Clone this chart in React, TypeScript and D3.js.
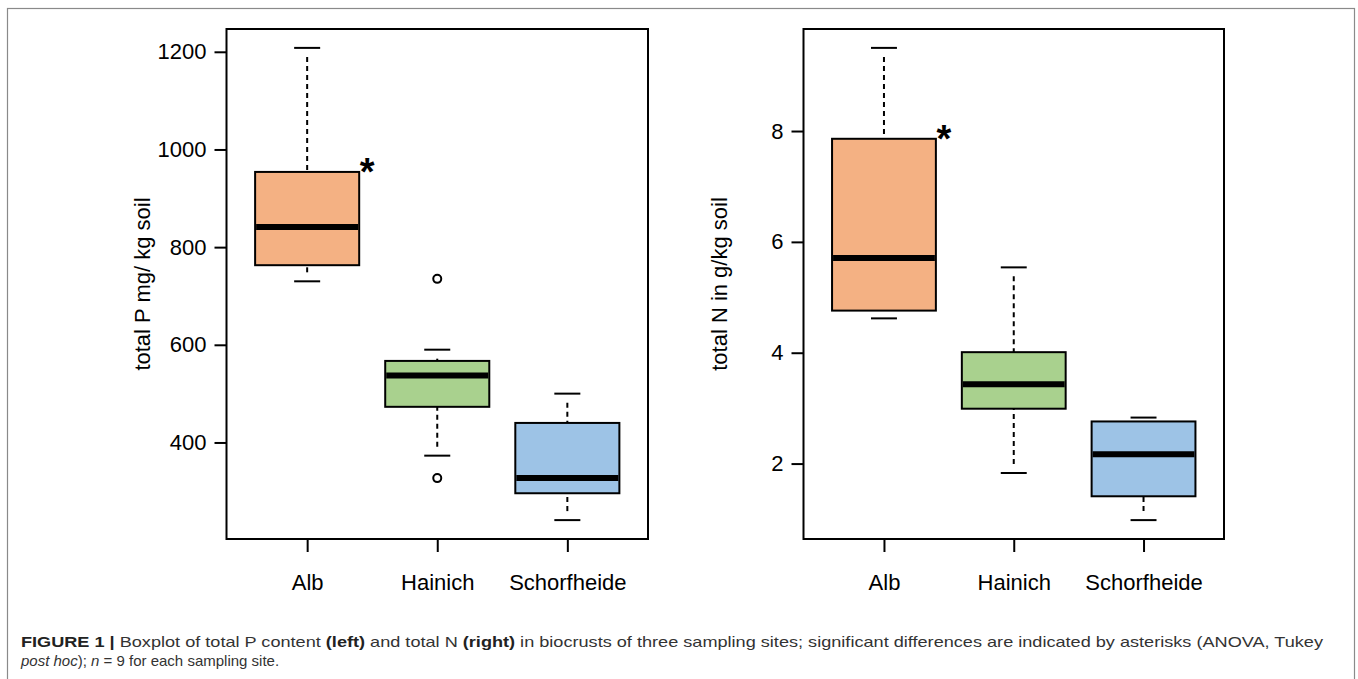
import React, { useEffect, useRef } from 'react';
import * as d3 from 'd3';

// sampling sites (x categories)
const sites = ["Alb", "Hainich", "Schorfheide"];

// total P, mg/kg soil (box statistics per site)
const pLow = [730, 373, 241];
const pQ1 = [763, 473, 296];
const pMedian = [841, 537, 327];
const pQ3 = [954, 567, 440];
const pHigh = [1208, 590, 500];
const pOutliers = [[], [735, 327], []];
const pTicks = [400, 600, 800, 1000, 1200];

// total N, g/kg soil
const nLow = [4.62, 1.83, 0.98];
const nQ1 = [4.76, 2.99, 1.41];
const nMedian = [5.71, 3.43, 2.17];
const nQ3 = [7.86, 4.01, 2.76];
const nHigh = [9.5, 5.54, 2.83];
const nOutliers = [[], [], []];
const nTicks = [2, 4, 6, 8];

// sites marked with an asterisk
const significant = ["Alb"];

const fills = ["#F4B183", "#A9D18E", "#9DC3E6"];
const font = "'Liberation Sans', Arial, sans-serif";
const gapAtStaple = 9;

const drawPanel = (svg, opts) => {
    const { left, right, top, bottom, low, q1, median, q3, high, outliers, ticks, label } = opts;

    const all = [...low, ...high, ...outliers.flat()];
    const [lo, hi] = d3.extent(all);
    const pad = (hi - lo) * 0.04;
    const y = d3.scaleLinear([lo - pad, hi + pad], [bottom, top]);
    const x = d3.scaleLinear([0.5 - 0.12, sites.length + 0.5 + 0.12], [left, right]);
    const bw = x(1.4) - x(1);
    const cap = bw / 2;

    const g = svg.append("g");

    const boxes = g.selectAll("g.site")
        .data(sites.map((s, i) => ({ s, i })))
        .join("g")
        .attr("class", "site");

    // dashed whiskers, leaving a small gap next to the staple like the original
    boxes.filter(d => y(q3[d.i]) - y(high[d.i]) > gapAtStaple)
        .append("line")
        .attr("x1", d => x(d.i + 1)).attr("x2", d => x(d.i + 1))
        .attr("y1", d => y(high[d.i]) + gapAtStaple).attr("y2", d => y(q3[d.i]))
        .attr("stroke", "#000").attr("stroke-width", 2)
        .attr("stroke-dasharray", "5,4");
    boxes.filter(d => y(low[d.i]) - y(q1[d.i]) > gapAtStaple)
        .append("line")
        .attr("x1", d => x(d.i + 1)).attr("x2", d => x(d.i + 1))
        .attr("y1", d => y(low[d.i]) - gapAtStaple).attr("y2", d => y(q1[d.i]))
        .attr("stroke", "#000").attr("stroke-width", 2)
        .attr("stroke-dasharray", "5,4");

    // staples
    boxes.append("line")
        .attr("x1", d => x(d.i + 1) - cap / 2).attr("x2", d => x(d.i + 1) + cap / 2)
        .attr("y1", d => y(high[d.i])).attr("y2", d => y(high[d.i]))
        .attr("stroke", "#000").attr("stroke-width", 2);
    boxes.append("line")
        .attr("x1", d => x(d.i + 1) - cap / 2).attr("x2", d => x(d.i + 1) + cap / 2)
        .attr("y1", d => y(low[d.i])).attr("y2", d => y(low[d.i]))
        .attr("stroke", "#000").attr("stroke-width", 2);

    boxes.append("rect")
        .attr("x", d => x(d.i + 1) - bw)
        .attr("width", bw * 2)
        .attr("y", d => y(q3[d.i]))
        .attr("height", d => y(q1[d.i]) - y(q3[d.i]))
        .attr("fill", d => fills[d.i])
        .attr("stroke", "#000")
        .attr("stroke-width", 2);

    boxes.append("line")
        .attr("x1", d => x(d.i + 1) - bw + 1).attr("x2", d => x(d.i + 1) + bw - 1)
        .attr("y1", d => y(median[d.i])).attr("y2", d => y(median[d.i]))
        .attr("stroke", "#000").attr("stroke-width", 6);

    boxes.selectAll("circle")
        .data(d => outliers[d.i].map(v => ({ v, i: d.i })))
        .join("circle")
        .attr("cx", d => x(d.i + 1))
        .attr("cy", d => y(d.v))
        .attr("r", 4)
        .attr("fill", "none")
        .attr("stroke", "#000")
        .attr("stroke-width", 2);

    boxes.filter(d => significant.includes(d.s))
        .append("text")
        .attr("x", d => x(d.i + 1) + bw + 8)
        .attr("y", d => y(q3[d.i]) + 13)
        .attr("text-anchor", "middle")
        .attr("font-family", font)
        .attr("font-size", 38)
        .attr("font-weight", "bold")
        .text("*");

    // plot frame
    g.append("rect")
        .attr("x", left).attr("y", top)
        .attr("width", right - left).attr("height", bottom - top)
        .attr("fill", "none").attr("stroke", "#000").attr("stroke-width", 2);

    g.append("g")
        .attr("transform", `translate(${left},0)`)
        .call(d3.axisLeft(y).tickValues(ticks).tickFormat(d3.format("d")).tickSize(12).tickPadding(8))
        .call(a => a.select(".domain").remove())
        .call(a => a.selectAll(".tick line").attr("stroke-width", 2))
        .call(a => a.selectAll(".tick text").attr("font-size", 22).attr("font-family", font).attr("fill", "#000"));

    g.append("g")
        .attr("transform", `translate(0,${bottom})`)
        .call(d3.axisBottom(d3.scalePoint(sites, [x(1), x(sites.length)])).tickSize(13).tickPadding(22))
        .call(a => a.select(".domain").remove())
        .call(a => a.selectAll(".tick line").attr("stroke-width", 2))
        .call(a => a.selectAll(".tick text").attr("font-size", 22).attr("font-family", font).attr("fill", "#000"));

    g.append("text")
        .attr("transform", `translate(${left - 82},${(top + bottom) / 2}) rotate(-90)`)
        .attr("text-anchor", "middle")
        .attr("dominant-baseline", "middle")
        .attr("font-family", font)
        .attr("font-size", 22)
        .text(label);
};

const App = () => {
    const svgRef = useRef(null);

    useEffect(() => {
        const svg = d3.select(svgRef.current);
        svg.selectAll("*").remove();

        svg.append("rect")
            .attr("x", 7.5).attr("y", 8.5)
            .attr("width", 1347).attr("height", 700)
            .attr("fill", "#fff").attr("stroke", "#8a8a8a").attr("stroke-width", 1.2);

        drawPanel(svg, {
            left: 226.5, right: 648, top: 29, bottom: 539,
            low: pLow, q1: pQ1, median: pMedian, q3: pQ3, high: pHigh,
            outliers: pOutliers, ticks: pTicks, label: "total P mg/ kg soil"
        });
        drawPanel(svg, {
            left: 803.5, right: 1224, top: 29, bottom: 539,
            low: nLow, q1: nQ1, median: nMedian, q3: nQ3, high: nHigh,
            outliers: nOutliers, ticks: nTicks, label: "total N in g/kg soil"
        });

        const caption = svg.append("g")
            .attr("font-family", font)
            .attr("font-size", 15)
            .attr("fill", "#333");

        const l1 = caption.append("text")
            .attr("x", 21).attr("y", 647)
            .attr("textLength", 1302)
            .attr("lengthAdjust", "spacingAndGlyphs");
        l1.append("tspan").attr("font-weight", "bold").attr("fill", "#222").text("FIGURE 1 | ");
        l1.append("tspan").text("Boxplot of total P content ");
        l1.append("tspan").attr("font-weight", "bold").attr("fill", "#222").text("(left)");
        l1.append("tspan").text(" and total N ");
        l1.append("tspan").attr("font-weight", "bold").attr("fill", "#222").text("(right)");
        l1.append("tspan").text(" in biocrusts of three sampling sites; significant differences are indicated by asterisks (ANOVA, Tukey");

        const l2 = caption.append("text").attr("x", 21).attr("y", 666);
        l2.append("tspan").attr("font-style", "italic").text("post hoc");
        l2.append("tspan").text("); ");
        l2.append("tspan").attr("font-style", "italic").text("n");
        l2.append("tspan").text(" = 9 for each sampling site.");
    }, []);

    return (
        <svg
            ref={svgRef}
            width={1358}
            height={679}
            style={{ position: 'absolute', left: 0, top: 0, background: '#fff' }}
        />
    );
};

export default App;
